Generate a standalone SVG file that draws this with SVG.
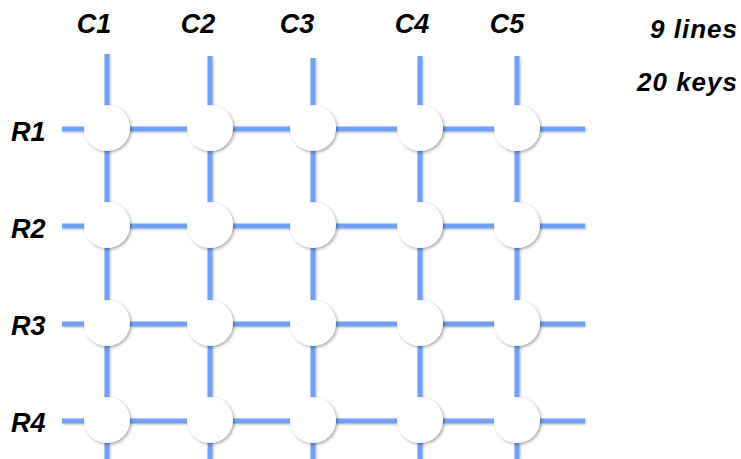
<svg xmlns="http://www.w3.org/2000/svg" width="741" height="459" viewBox="0 0 741 459">
<defs>
<filter id="sh" x="-30%" y="-30%" width="170%" height="170%">
<feDropShadow dx="1.5" dy="1.5" stdDeviation="1.5" flood-color="#000" flood-opacity="0.35"/>
</filter>
<filter id="lsh" x="-5%" y="-5%" width="110%" height="110%">
<feDropShadow dx="1" dy="1" stdDeviation="0.8" flood-color="#000" flood-opacity="0.25"/>
</filter>
</defs>
<style>
.ln{stroke:#72A0F6;stroke-width:5;fill:none}
.k{fill:#fff;filter:url(#sh)}
.t{font-family:"Liberation Sans",Arial,sans-serif;font-weight:bold;font-style:italic;font-size:27px;fill:#000}
.s{font-family:"Liberation Sans",Arial,sans-serif;font-weight:bold;font-style:italic;font-size:26px;letter-spacing:1px;fill:#000}
</style>
<g id="connectors" filter="url(#lsh)">
<line class="ln" x1="107" y1="54" x2="107" y2="459"/>
<line class="ln" x1="210" y1="56" x2="210" y2="459"/>
<line class="ln" x1="313" y1="58" x2="313" y2="459"/>
<line class="ln" x1="420" y1="56" x2="420" y2="459"/>
<line class="ln" x1="517" y1="56" x2="517" y2="459"/>
<line class="ln" x1="62" y1="129" x2="585" y2="129"/>
<line class="ln" x1="62" y1="226" x2="585" y2="226"/>
<line class="ln" x1="62" y1="324" x2="585" y2="324"/>
<line class="ln" x1="62" y1="421" x2="585" y2="421"/>
</g>
<g id="labels">
<text class="t" x="94" y="33" text-anchor="middle">C1</text>
<text class="t" x="198" y="33" text-anchor="middle">C2</text>
<text class="t" x="297" y="33" text-anchor="middle">C3</text>
<text class="t" x="412" y="33" text-anchor="middle">C4</text>
<text class="t" x="507" y="33" text-anchor="middle">C5</text>
<text class="t" x="11" y="141">R1</text>
<text class="t" x="11" y="238">R2</text>
<text class="t" x="11" y="335">R3</text>
<text class="t" x="11" y="432">R4</text>
<text class="s" x="738" y="38" text-anchor="end">9 lines</text>
<text class="s" x="738" y="91" text-anchor="end">20 keys</text>
</g>
<g id="k11"><circle class="k" cx="107" cy="128" r="23"/></g>
<g id="k12"><circle class="k" cx="210" cy="128" r="23"/></g>
<g id="k13"><circle class="k" cx="313" cy="128" r="23"/></g>
<g id="k14"><circle class="k" cx="420" cy="128" r="23"/></g>
<g id="k15"><circle class="k" cx="517" cy="128" r="23"/></g>
<g id="k21"><circle class="k" cx="107" cy="225" r="23"/></g>
<g id="k22"><circle class="k" cx="210" cy="225" r="23"/></g>
<g id="k23"><circle class="k" cx="313" cy="225" r="23"/></g>
<g id="k24"><circle class="k" cx="420" cy="225" r="23"/></g>
<g id="k25"><circle class="k" cx="517" cy="225" r="23"/></g>
<g id="k31"><circle class="k" cx="107" cy="323" r="23"/></g>
<g id="k32"><circle class="k" cx="210" cy="323" r="23"/></g>
<g id="k33"><circle class="k" cx="313" cy="323" r="23"/></g>
<g id="k34"><circle class="k" cx="420" cy="323" r="23"/></g>
<g id="k35"><circle class="k" cx="517" cy="323" r="23"/></g>
<g id="k41"><circle class="k" cx="107" cy="420" r="23"/></g>
<g id="k42"><circle class="k" cx="210" cy="420" r="23"/></g>
<g id="k43"><circle class="k" cx="313" cy="420" r="23"/></g>
<g id="k44"><circle class="k" cx="420" cy="420" r="23"/></g>
<g id="k45"><circle class="k" cx="517" cy="420" r="23"/></g>
</svg>
